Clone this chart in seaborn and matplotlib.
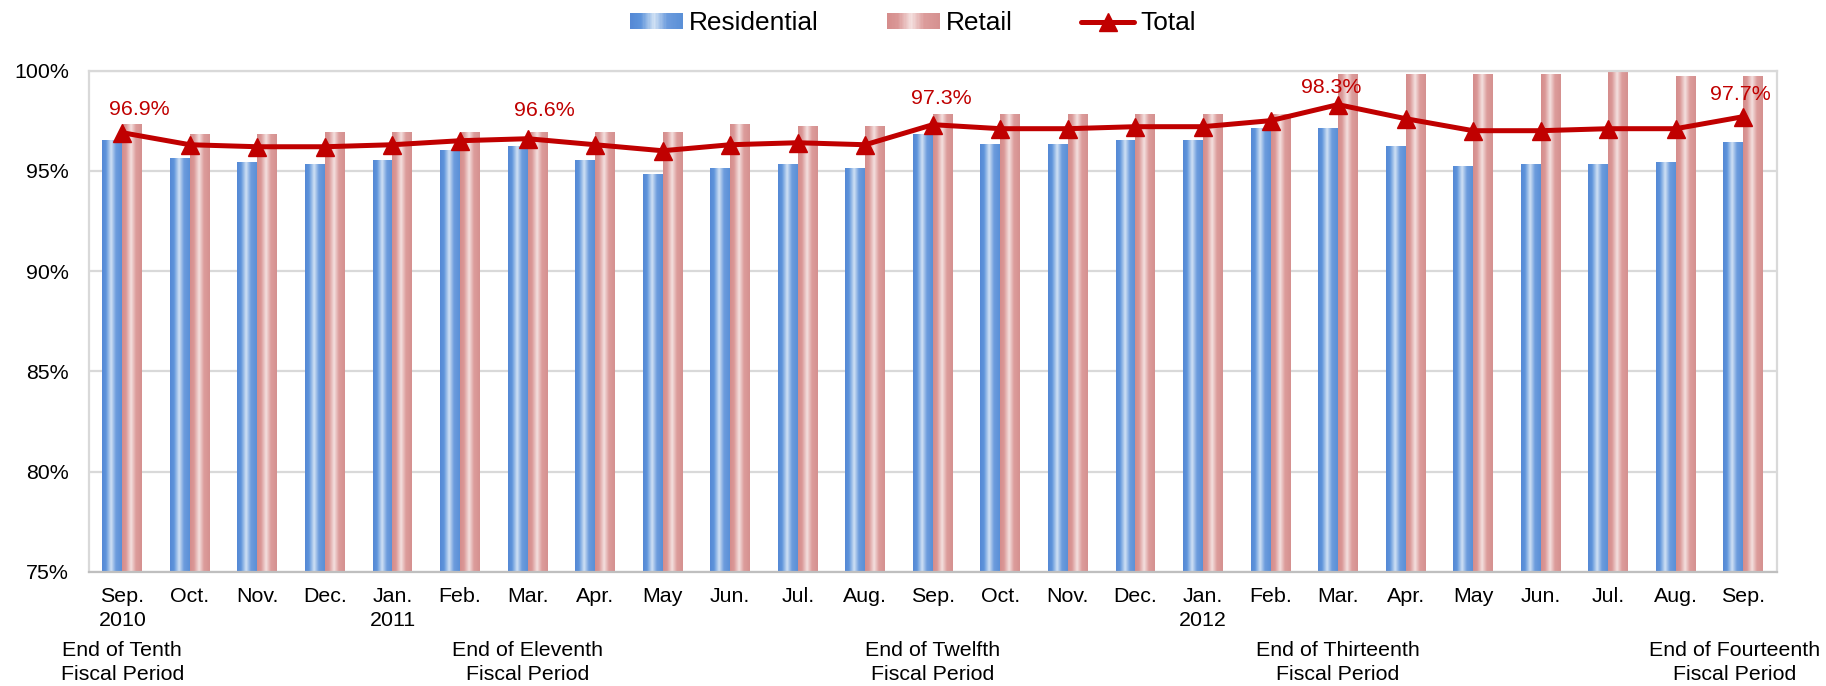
import numpy as np
import pandas as pd
import matplotlib
matplotlib.use("Agg")
import matplotlib.pyplot as plt
import seaborn as sns
from matplotlib.colors import LinearSegmentedColormap
from matplotlib.patches import Patch, Rectangle
from matplotlib.lines import Line2D
from matplotlib.legend_handler import HandlerBase

# ---- data -------------------------------------------------------------
months = ["Sep.", "Oct.", "Nov.", "Dec.", "Jan.", "Feb.", "Mar.", "Apr.", "May",
          "Jun.", "Jul.", "Aug.", "Sep.", "Oct.", "Nov.", "Dec.", "Jan.", "Feb.",
          "Mar.", "Apr.", "May", "Jun.", "Jul.", "Aug.", "Sep."]
years = ["2010", "", "", "", "2011", "", "", "", "", "", "", "", "", "", "", "",
         "2012", "", "", "", "", "", "", "", ""]
periods = {0: "End of Tenth\nFiscal Period",
           6: "End of Eleventh\nFiscal Period",
           12: "End of Twelfth\nFiscal Period",
           18: "End of Thirteenth\nFiscal Period",
           24: "End of Fourteenth\nFiscal Period"}

residential = [96.5, 95.6, 95.4, 95.3, 95.5, 96.0, 96.2, 95.5, 94.8, 95.1, 95.3, 95.1,
               96.8, 96.3, 96.3, 96.5, 96.5, 97.1, 97.1, 96.2, 95.2, 95.3, 95.3, 95.4, 96.4]
retail = [97.3, 96.8, 96.8, 96.9, 96.9, 96.9, 96.9, 96.9, 96.9, 97.3, 97.2, 97.2,
          97.8, 97.8, 97.8, 97.8, 97.8, 97.8, 99.8, 99.8, 99.8, 99.8, 99.9, 99.7, 99.7]
total = [96.9, 96.3, 96.2, 96.2, 96.3, 96.5, 96.6, 96.3, 96.0, 96.3, 96.4, 96.3,
         97.3, 97.1, 97.1, 97.2, 97.2, 97.5, 98.3, 97.6, 97.0, 97.0, 97.1, 97.1, 97.7]
labelled = [0, 6, 12, 18, 24]

# ---- styling ----------------------------------------------------------
sns.set_style("white")
plt.rcParams["font.family"] = ["Liberation Sans", "DejaVu Sans"]
plt.rcParams["text.color"] = "black"
plt.rcParams["xtick.color"] = "black"
plt.rcParams["ytick.color"] = "black"

RED = "#c00000"
FS = 15.4
res_cmap = LinearSegmentedColormap.from_list(
    "res", [(0.0, "#5488d5"), (0.2, "#5e94db"), (0.46, "#d0e1f4"),
            (0.7, "#6d9cdd"), (1.0, "#5a8fd7")])
ret_cmap = LinearSegmentedColormap.from_list(
    "ret", [(0.0, "#d58c8b"), (0.2, "#da9897"), (0.46, "#f4e0df"),
            (0.7, "#dc9c9b"), (1.0, "#d59190")])

n = len(months)
idx = np.arange(n)
df = pd.DataFrame({
    "idx": np.concatenate([idx, idx]),
    "series": ["Residential"] * n + ["Retail"] * n,
    "value": residential + retail,
})

fig = plt.figure(figsize=(18.26, 6.86), dpi=100)
ax = fig.add_axes([0.0485, 0.1662, 0.9247, 0.7310])

sns.barplot(data=df, x="idx", y="value", hue="series", order=list(idx),
            hue_order=["Residential", "Retail"], width=0.59, gap=0,
            palette=["#5b8fd8", "#d99694"], legend=False, ax=ax, zorder=2)

# replace flat bar fills with a horizontal shading gradient
grad = np.linspace(0, 1, 256).reshape(1, -1)
for cont, cmap in zip(ax.containers, [res_cmap, ret_cmap]):
    for bar in cont:
        x0 = bar.get_x()
        w = bar.get_width()
        h = bar.get_height()
        ax.imshow(grad, extent=(x0, x0 + w, 0, h), aspect="auto", cmap=cmap,
                  interpolation="bilinear", zorder=2)
        bar.set_visible(False)

# total occupancy line
sns.lineplot(x=idx, y=total, ax=ax, color=RED, lw=3.6, marker="^",
             markersize=13, markeredgecolor=RED, markeredgewidth=1,
             zorder=4, legend=False)

label_offsets = [(12, 17), (12, 20), (6, 19), (-5, 12), (-2, 16)]
for (i, (dx, dy)) in zip(labelled, label_offsets):
    ax.annotate(f"{total[i]:.1f}%", xy=(i, total[i]), xytext=(dx, dy),
                textcoords="offset points", ha="center", va="center",
                color=RED, fontsize=FS, zorder=5)

# axes, grid, ticks
ax.set_xlim(-0.5, n - 0.5)
ax.set_ylim(75, 100)
ax.set_yticks([75, 80, 85, 90, 95, 100])
ax.set_yticklabels([f"{v}%" for v in [75, 80, 85, 90, 95, 100]])
ax.yaxis.grid(True, color="#d9d9d9", lw=1.6, zorder=0)
ax.set_axisbelow(True)
ax.tick_params(axis="y", length=0, pad=14, labelsize=FS, labelcolor="black")

ax.set_xticks(idx)
ax.set_xticklabels([m + ("\n" + y if y else "") for m, y in zip(months, years)],
                   linespacing=1.32)
ax.set_xticks(idx[:-1] + 0.5, minor=True)
ax.tick_params(axis="x", which="major", length=0, pad=11, labelsize=FS,
               labelcolor="black")
ax.tick_params(axis="x", which="minor", direction="in", length=5,
               width=1.2, color="#bfbfbf")
ax.set_xlabel("")
ax.set_ylabel("")

for side in ["left", "top", "right"]:
    ax.spines[side].set_color("#d9d9d9")
    ax.spines[side].set_linewidth(1.6)
ax.spines["bottom"].set_color("#bfbfbf")
ax.spines["bottom"].set_linewidth(1.6)

# fiscal period captions under their closing months; the last one is
# nudged left so it stays inside the figure
for i, text in periods.items():
    dx = -6 if i == n - 1 else 0
    ax.annotate(text, xy=(i, 0), xycoords=("data", "axes fraction"),
                xytext=(dx, -50), textcoords="offset points",
                ha="center", va="top", fontsize=FS, linespacing=1.3,
                annotation_clip=False)


# legend with shaded swatches
class GradientHandler(HandlerBase):
    def __init__(self, cmap):
        super().__init__()
        self.cmap = cmap

    def create_artists(self, legend, orig_handle, xdescent, ydescent,
                       width, height, fontsize, trans):
        steps = 40
        out = []
        for k in range(steps):
            out.append(Rectangle((-xdescent + width * k / steps, -ydescent),
                                 width / steps * 1.1, height,
                                 facecolor=self.cmap((k + 0.5) / steps),
                                 edgecolor="none", transform=trans))
        return out


h_res = Patch(label="Residential")
h_ret = Patch(label="Retail")
h_tot = Line2D([], [], color=RED, lw=3.6, marker="^", markersize=13,
               markeredgecolor=RED, label="Total")
fig.legend(handles=[h_res, h_ret, h_tot], loc="center",
           bbox_to_anchor=(0.5, 0.966), ncol=3, frameon=False,
           fontsize=18.9, handlelength=2.0, handleheight=0.6,
           handletextpad=0.25, columnspacing=2.6,
           handler_map={h_res: GradientHandler(res_cmap),
                        h_ret: GradientHandler(ret_cmap)})

fig.savefig("out.png", dpi=100)
